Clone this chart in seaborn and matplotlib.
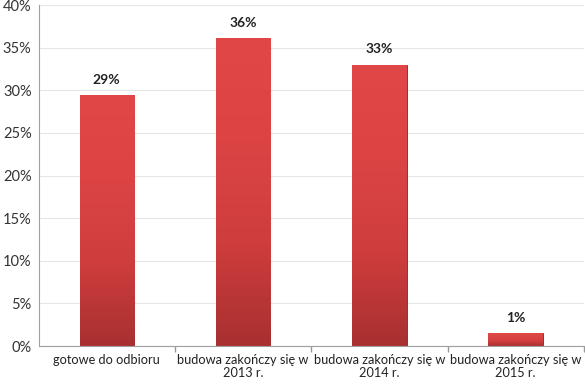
import matplotlib
matplotlib.use("Agg")
import matplotlib.pyplot as plt
import seaborn as sns
import numpy as np
import pandas as pd
from matplotlib.colors import LinearSegmentedColormap

categories = ["gotowe do odbioru", "budowa zakończy się w\n2013 r.",
              "budowa zakończy się w\n2014 r.", "budowa zakończy się w\n2015 r."]
values = [29.4, 36.1, 33.0, 1.5]
labels = ["29%", "36%", "33%", "1%"]
yticks = [0, 5, 10, 15, 20, 25, 30, 35, 40]

sns.set_theme(style="white")
plt.rcParams['font.family'] = ['Lato', 'DejaVu Sans']

fig = plt.figure(figsize=(5.85, 3.85), dpi=100)
ax = fig.add_axes([0.066, 0.101, 0.932, 0.886])

df = pd.DataFrame({"cat": categories, "val": values})
sns.barplot(data=df, x="cat", y="val", color="#c83838", width=0.4, ax=ax,
            edgecolor="#8a2020", linewidth=0.6, saturation=1)

cmap = LinearSegmentedColormap.from_list("g", ["#a83030", "#cf3d3d", "#dc4444", "#e04848"])
grad = np.linspace(0, 1, 256).reshape(-1, 1)
for p in ax.patches:
    x0, y0 = p.get_x(), p.get_y()
    w, h = p.get_width(), p.get_height()
    im = ax.imshow(grad, cmap=cmap, origin="lower", aspect="auto",
                   extent=[x0, x0 + w, y0, y0 + h], zorder=p.get_zorder() + 0.1)
    im.set_clip_path(p)

ax.set_xlim(-0.5, 3.5)
ax.set_ylim(0, 40)
ax.set_yticks(yticks)
ax.set_yticklabels([f"{t}%" for t in yticks], fontsize=10.5, color="#333333")
ax.yaxis.grid(True, color="#e6e6e6", linewidth=0.8)
ax.set_axisbelow(True)

ax.set_xticks(range(4))
ax.set_xticklabels(categories, fontsize=9.2, color="#222222", linespacing=1.1)
ax.tick_params(axis="x", length=0, pad=6)
ax.tick_params(axis="y", length=0, pad=5)
ax.set_xticks([0.5, 1.5, 2.5, 3.5], minor=True)
ax.tick_params(axis="x", which="minor", length=4, color="#999999", direction="out", bottom=True)
ax.set_xlabel("")
ax.set_ylabel("")

for s in ["top", "right"]:
    ax.spines[s].set_visible(False)
for s in ["left", "bottom"]:
    ax.spines[s].set_color("#a0a0a0")
    ax.spines[s].set_linewidth(0.8)

for i, (v, lab) in enumerate(zip(values, labels)):
    ax.text(i, v + 1.1, lab, ha="center", va="bottom", fontsize=10,
            fontweight="bold", color="#222222")

fig.savefig("out.png", dpi=100)
